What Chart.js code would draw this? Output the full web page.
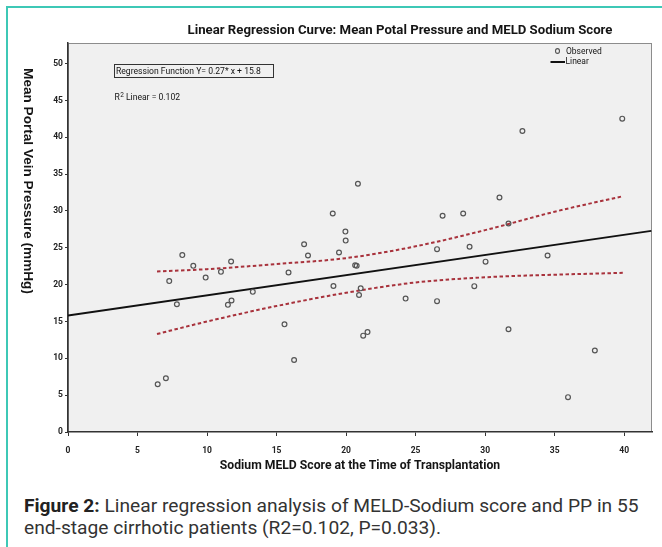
<!DOCTYPE html>
<html>
<head>
<meta charset="utf-8">
<title>MELD-Sodium vs Portal Pressure</title>
<script src="https://cdn.jsdelivr.net/npm/chart.js@4.4.0/dist/chart.umd.min.js"></script>
<style>
    html, body { margin: 0; padding: 0; background: #fff; }
    body { width: 662px; height: 547px; position: relative; overflow: hidden; }
    .frame {
        position: absolute; left: 6px; top: 6px; width: 720px; height: 600px;
        border-top: 2px solid #3ec8b6; border-left: 2px solid #3ec8b6;
    }
    #wrap { position: absolute; left: 0; top: 0; width: 662px; height: 480px; }
    .caption {
        position: absolute; left: 24px; top: 495px; width: 636px;
        font: 19.2px Roboto, 'Liberation Sans', sans-serif;
        color: #333; line-height: 22px; white-space: nowrap;
    }
    .caption b { color: #222; }
</style>
</head>
<body>
<div class="frame"></div>
<div id="wrap"><canvas id="meldChart" width="662" height="480"></canvas></div>
<div class="caption"><b>Figure 2:</b> Linear regression analysis of MELD-Sodium score and PP in 55<br>end-stage cirrhotic patients (R2=0.102, P=0.033).</div>
<script>
    const NARROW = "Roboto, 'Liberation Sans', sans-serif";
    const WIDE = "'Liberation Sans', Arial, sans-serif";

    // observed patients (x: Sodium MELD score, y: mean portal vein pressure mmHg)
    const meldScore = [6.45, 7.04, 7.28, 7.83, 8.22, 9.01, 9.9, 11.0, 11.5, 11.76, 11.73, 13.29, 15.57, 15.86, 16.26,
        16.98, 17.26, 19.04, 19.09, 19.49, 19.95, 19.97, 20.65, 20.76, 20.85, 21.05, 20.93, 21.23, 21.54, 24.28,
        26.54, 26.54, 26.94, 28.42, 28.88, 29.22, 30.03, 31.03, 31.68, 31.68, 32.68, 34.49, 35.96, 37.89, 39.86];
    const portalPressure = [6.48, 7.3, 20.48, 17.35, 24.01, 22.55, 20.96, 21.74, 17.26, 17.84, 23.14, 19.02, 14.61, 21.64, 9.78,
        25.48, 23.95, 29.66, 19.81, 24.36, 27.2, 25.98, 22.62, 22.55, 33.7, 19.5, 18.59, 13.08, 13.56, 18.11,
        17.76, 24.82, 29.35, 29.66, 25.14, 19.8, 23.12, 31.83, 28.3, 13.95, 40.86, 23.95, 4.73, 11.07, 42.53];

    // fitted line Y = 0.27*x + 15.8, ends
    const fitX = [0, 41.95];
    const fitY = [15.8, 27.3];

    // 95% confidence band (red dashed)
    const bandX = [6.4, 10, 15, 20, 25, 30, 35, 39.9];
    const bandUpper = [21.8, 22.1, 22.8, 23.6, 25.2, 27.4, 29.9, 32.0];
    const bandLower = [13.3, 15.0, 17.1, 18.9, 20.3, 21.0, 21.35, 21.6];

    const xTickValues = [0, 5, 10, 15, 20, 25, 30, 35, 40];
    const yTickValues = [0, 5, 10, 15, 20, 25, 30, 35, 40, 45, 50];

    const toPoints = (xs, ys) => xs.map((x, i) => ({ x, y: ys[i] }));

    const decorPlugin = {
        id: 'decor',
        beforeDraw(chart) {
            const { ctx, chartArea: a } = chart;
            ctx.save();
            ctx.fillStyle = '#f0f0f0';
            ctx.fillRect(a.left, a.top, a.right - a.left, a.bottom - a.top);
            ctx.strokeStyle = '#8c8c8c';
            ctx.lineWidth = 1;
            ctx.strokeRect(a.left + 0.5, a.top + 0.5, a.right - a.left - 1, a.bottom - a.top - 1);
            ctx.restore();
        },
        afterDraw(chart) {
            const { ctx } = chart;
            ctx.save();
            ctx.fillStyle = '#151515';
            ctx.textBaseline = 'middle';

            // chart title
            ctx.font = `bold 13.2px ${NARROW}`;
            ctx.textAlign = 'center';
            ctx.fillText('Linear Regression Curve: Mean Potal Pressure and MELD Sodium Score', 400, 31);

            // y axis title, reads top to bottom
            ctx.save();
            ctx.translate(28, 181);
            ctx.rotate(Math.PI / 2);
            ctx.font = `bold 13.6px ${WIDE}`;
            ctx.fillText('Mean Portal Vein Pressure (mmHg)', 0, 0);
            ctx.restore();

            // regression function box
            ctx.textAlign = 'left';
            ctx.font = `8.6px ${NARROW}`;
            ctx.strokeStyle = '#333';
            ctx.lineWidth = 1;
            ctx.strokeRect(114.5, 64.5, 159, 13);
            ctx.fillText('Regression Function Y= 0.27* x + 15.8', 116, 71.5);

            // R squared
            ctx.fillText('R', 114.5, 98);
            const rW = ctx.measureText('R').width;
            ctx.font = `6.5px ${NARROW}`;
            ctx.fillText('2', 114.5 + rW + 0.5, 95);
            ctx.font = `8.6px ${NARROW}`;
            ctx.fillText(' Linear = 0.102', 114.5 + rW + 4, 98);

            // legend
            ctx.font = `8.5px ${NARROW}`;
            ctx.strokeStyle = '#555';
            ctx.lineWidth = 1.1;
            ctx.beginPath();
            ctx.ellipse(557.5, 51, 2, 2.4, 0, 0, Math.PI * 2);
            ctx.stroke();
            ctx.fillText('Observed', 566, 51.5);
            ctx.strokeStyle = '#111';
            ctx.lineWidth = 2;
            ctx.beginPath();
            ctx.moveTo(550.5, 62);
            ctx.lineTo(565, 62);
            ctx.stroke();
            ctx.fillText('Linear', 565.5, 62);
            ctx.restore();
        }
    };

    const tickFont = { family: NARROW, size: 8.5, weight: 'bold' };

    new Chart(document.getElementById('meldChart'), {
        type: 'scatter',
        data: {
            datasets: [
                {
                    label: 'Observed',
                    data: toPoints(meldScore, portalPressure),
                    pointStyle: 'circle',
                    pointRadius: 2.4,
                    borderColor: '#555',
                    borderWidth: 1.2,
                    backgroundColor: 'rgba(0,0,0,0)',
                    order: 0
                },
                {
                    label: 'Linear',
                    data: toPoints(fitX, fitY),
                    showLine: true,
                    borderColor: '#111',
                    borderWidth: 2,
                    pointRadius: 0,
                    order: 1
                },
                {
                    label: 'Upper 95% CI',
                    data: toPoints(bandX, bandUpper),
                    showLine: true,
                    borderColor: '#a8323c',
                    borderWidth: 2,
                    borderDash: [3.5, 2.5],
                    cubicInterpolationMode: 'monotone',
                    pointRadius: 0,
                    order: 2
                },
                {
                    label: 'Lower 95% CI',
                    data: toPoints(bandX, bandLower),
                    showLine: true,
                    borderColor: '#a8323c',
                    borderWidth: 2,
                    borderDash: [3.5, 2.5],
                    cubicInterpolationMode: 'monotone',
                    pointRadius: 0,
                    order: 2
                }
            ]
        },
        options: {
            responsive: false,
            animation: false,
            layout: { padding: { top: 43, right: 10, left: 0, bottom: 0 } },
            plugins: {
                legend: { display: false },
                tooltip: { enabled: false }
            },
            scales: {
                x: {
                    type: 'linear',
                    min: 0,
                    max: 42,
                    afterBuildTicks: (axis) => { axis.ticks = xTickValues.map((v) => ({ value: v })); },
                    afterFit: (axis) => { axis.height = 48; },
                    grid: { drawOnChartArea: false, drawTicks: true, tickLength: 4, tickColor: '#333' },
                    border: { color: '#333', width: 1.5 },
                    ticks: { font: tickFont, color: '#222', padding: 10, maxRotation: 0, autoSkip: false },
                    title: {
                        display: true,
                        text: 'Sodium MELD Score at the Time of Transplantation',
                        font: { family: NARROW, size: 12.2, weight: 'bold' },
                        color: '#151515',
                        padding: { top: 0, bottom: 7 }
                    }
                },
                y: {
                    type: 'linear',
                    min: 0,
                    max: 52.8,
                    afterBuildTicks: (axis) => { axis.ticks = yTickValues.map((v) => ({ value: v })); },
                    afterFit: (axis) => { axis.width = 68; },
                    grid: { drawOnChartArea: false, drawTicks: true, tickLength: 3, tickColor: '#333' },
                    border: { color: '#333', width: 1.5 },
                    ticks: { font: tickFont, color: '#222', padding: 2, autoSkip: false }
                }
            }
        },
        plugins: [decorPlugin]
    });
</script>
</body>
</html>
